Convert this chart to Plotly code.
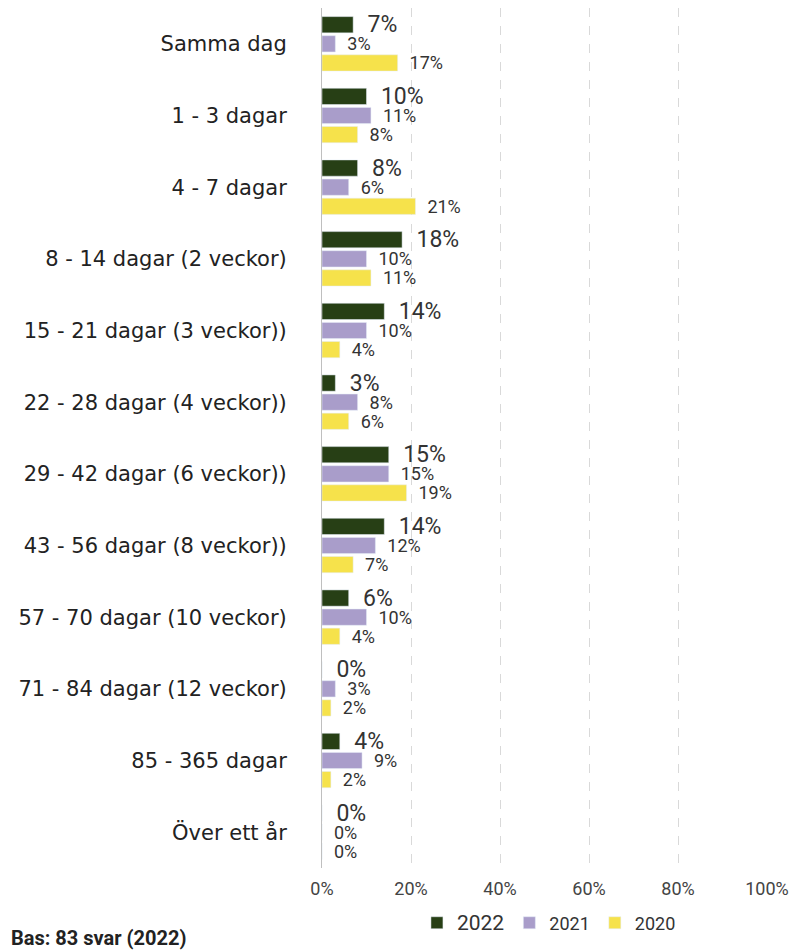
import plotly.graph_objects as go

# Kategorier och värden (%)
kategorier = [
    "Samma dag",
    "1 - 3 dagar",
    "4 - 7 dagar",
    "8 - 14 dagar (2 veckor)",
    "15 - 21 dagar (3 veckor))",
    "22 - 28 dagar (4 veckor))",
    "29 - 42 dagar (6 veckor))",
    "43 - 56 dagar (8 veckor))",
    "57 - 70 dagar (10 veckor)",
    "71 - 84 dagar (12 veckor)",
    "85 - 365 dagar",
    "Över ett år",
]
v2022 = [7, 10, 8, 18, 14, 3, 15, 14, 6, 0, 4, 0]
v2021 = [3, 11, 6, 10, 10, 8, 15, 12, 10, 3, 9, 0]
v2020 = [17, 8, 21, 11, 4, 6, 19, 7, 4, 2, 2, 0]

x_ticks = [0, 20, 40, 60, 80, 100]
x_ticktext = ["0%", "20%", "40%", "60%", "80%", "100%"]

label_font = "Roboto, sans-serif"
nbsp = "\u00a0"

serier = [
    ("2022", v2022, "#273f15", 23, 21),
    ("2021", v2021, "#a99dca", 18, 18),
    ("2020", v2020, "#f6e24b", 18, 18),
]

fig = go.Figure()
for namn, vals, farg, tsize, lsize in serier:
    fig.add_trace(go.Bar(
        y=kategorier,
        x=vals,
        orientation="h",
        name=f"<span style='font-size:{lsize}px'>{namn}</span>",
        marker_color=farg,
        text=[f"{nbsp}{nbsp}{v}%" for v in vals],
        textposition="outside",
        textfont=dict(family=label_font, size=tsize, color="#333333"),
        cliponaxis=False,
        constraintext="none",
    ))

# sidan har 8 px marginal runt diagrammet
fig.update_layout(
    width=800,
    height=950,
    barmode="group",
    bargap=0.2,
    bargroupgap=0.15,
    plot_bgcolor="white",
    paper_bgcolor="white",
    margin=dict(l=314, r=41, t=0, b=90),
    legend=dict(
        orientation="h",
        x=0.51, xanchor="center",
        y=-0.064, yanchor="middle",
        font=dict(family=label_font, size=18, color="#333333"),
        itemwidth=30,
    ),
    annotations=[dict(
        text="<b>Bas: 83 svar (2022)</b>",
        xref="paper", yref="paper",
        x=-0.704, xanchor="left",
        y=-0.0814, yanchor="middle",
        showarrow=False,
        font=dict(family=label_font, size=20, color="#222222"),
    )],
)

fig.update_xaxes(
    range=[0, 100],
    tickvals=x_ticks,
    ticktext=x_ticktext,
    showgrid=True,
    gridcolor="#d9d9d9",
    griddash="dash",
    zeroline=False,
    tickfont=dict(family=label_font, size=18, color="#444444"),
    ticks="",
    ticklabelstandoff=8,
)

fig.update_yaxes(
    autorange="reversed",
    showline=True,
    linecolor="#bfbfbf",
    linewidth=1,
    ticks="",
    ticklabelstandoff=30,
    tickfont=dict(family="DejaVu Sans", size=21, color="#222222"),
)

fig.write_html("out.html")
